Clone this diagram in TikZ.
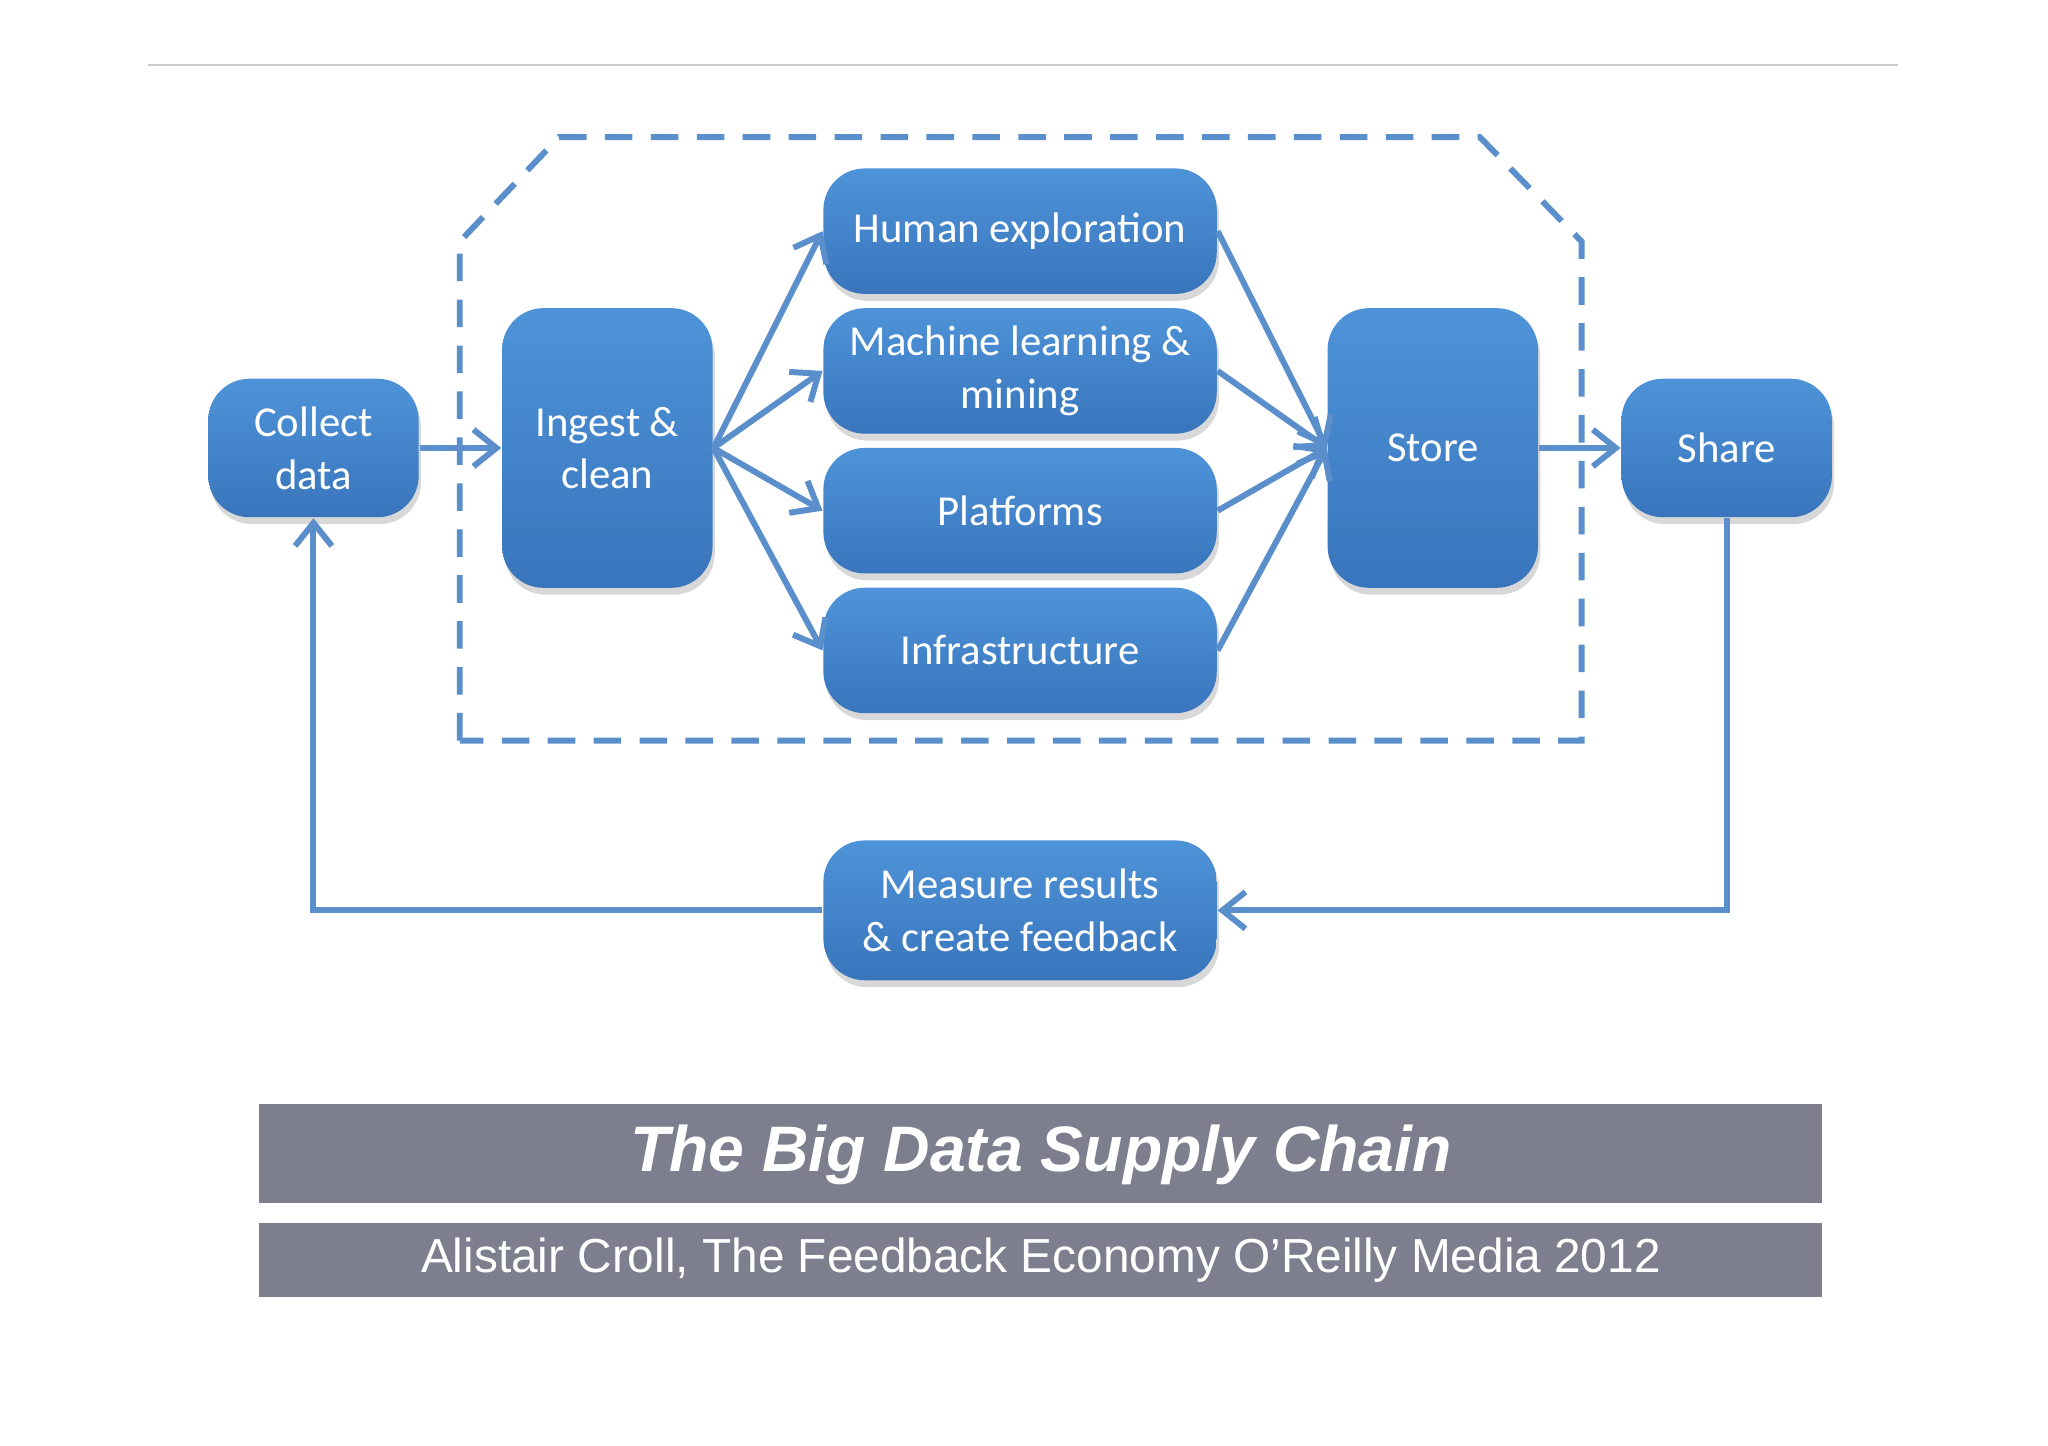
\documentclass[tikz,border=0pt]{standalone}
\usepackage{fontspec}
\setmainfont{Carlito}
\newfontfamily\arialf{Liberation Sans}
\usetikzlibrary{arrows.meta,shadows}
\definecolor{boxtop}{HTML}{4E93D8}
\definecolor{boxbot}{HTML}{3975BC}
\definecolor{lnk}{HTML}{5B8FCC}
\definecolor{bar}{HTML}{7D7E8E}
\begin{document}
\begin{tikzpicture}[x=0.01cm,y=-0.01cm,
  box/.style={draw=none,rounded corners=9pt,top color=boxtop,bottom color=boxbot,
     text=white,font=\fontsize{9.3}{11.5}\selectfont,align=center,inner sep=0pt,
     drop shadow={shadow xshift=0.5pt,shadow yshift=-1.5pt,opacity=0.3}},
  lk/.style={draw=lnk,line width=1.3pt,-{Straight Barb[length=5pt,width=8pt]}},
  ln/.style={draw=lnk,line width=1.3pt}]
\useasboundingbox (0,0) rectangle (1568,1107);
\fill[white] (0,0) rectangle (1568,1107);
\draw[gray!40,line width=0.4pt] (113,50) -- (1453,50);
\draw[lnk,line width=1.3pt,dash pattern=on 6pt off 4pt] (352,567) -- (352,185) -- (428,105) -- (1133,105) -- (1211,185) -- (1211,567) -- cycle;
\node[box,minimum width=161\pgflinewidth*0+1.61cm,minimum height=1.06cm] (collect) at (240,343) {Collect\\data};
\node[box,minimum width=1.61cm,minimum height=2.14cm] (ingest) at (465,343) {Ingest \&\\clean};
\node[box,minimum width=3.01cm,minimum height=0.96cm] (human) at (781,177) {Human exploration};
\node[box,minimum width=3.01cm,minimum height=0.96cm] (ml) at (781,284) {Machine learning \&\\mining};
\node[box,minimum width=3.01cm,minimum height=0.96cm] (plat) at (781,391) {Platforms};
\node[box,minimum width=3.01cm,minimum height=0.96cm] (infra) at (781,498) {Infrastructure};
\node[box,minimum width=1.61cm,minimum height=2.14cm] (store) at (1097,343) {Store};
\node[box,minimum width=1.61cm,minimum height=1.06cm] (share) at (1322,343) {Share};
\node[box,minimum width=3.01cm,minimum height=1.07cm] (measure) at (781,697) {Measure results\\\& create feedback};
\draw[lk] (collect.east) -- (ingest.west);
\foreach \n in {human,ml,plat,infra}{
  \draw[lk] (ingest.east) -- (\n.west);
  \draw[lk] (\n.east) -- (store.west);
}
\draw[lk] (store.east) -- (share.west);
\coordinate (c1) at (1322,697);
\coordinate (c2) at (240,697);
\draw[lk] (share.south) -- (c1) -- (measure.east);
\draw[lk] (measure.west) -- (c2) -- (collect.south);
\fill[bar] (198,845) rectangle (1395,921);
\fill[bar] (198,936) rectangle (1395,993);
\node[text=white,font=\arialf\bfseries\itshape\fontsize{14}{16}\selectfont] (title) at (797,884) {The Big Data Supply Chain};
\node[text=white,font=\arialf\fontsize{10.4}{12}\selectfont] (sub) at (797,965) {Alistair Croll, The Feedback Economy O’Reilly Media 2012};
\end{tikzpicture}
\end{document}
